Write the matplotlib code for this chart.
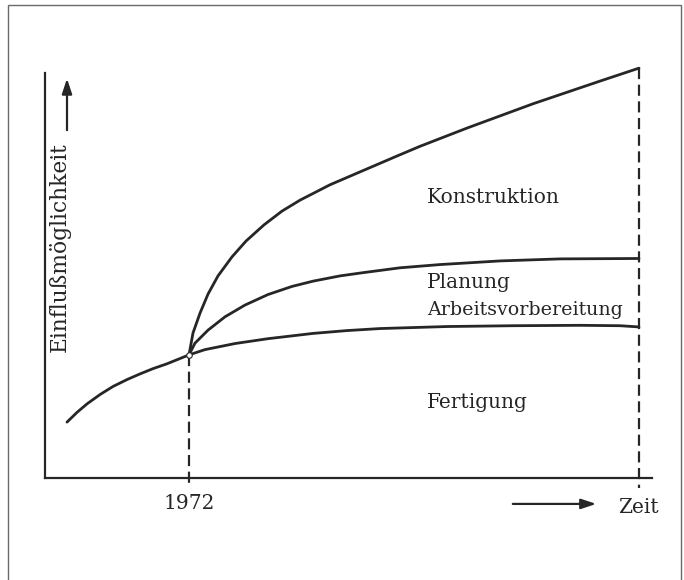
import matplotlib
matplotlib.use("Agg")
import matplotlib.pyplot as plt
from matplotlib.patches import Rectangle

# ---- data ----
# Time axis in years, influence in percent of axis height
fertigung_years = [1967.12, 1967.52, 1967.92, 1968.44, 1968.96, 1969.52, 1970.04, 1970.56, 1971.12,
                   1971.64, 1972.00, 1972.64, 1973.84, 1975.16, 1976.96, 1978.32, 1979.64, 1982.32,
                   1984.96, 1987.64, 1989.24, 1990.00]
fertigung_vals = [13.8, 16.2, 18.3, 20.6, 22.6, 24.3, 25.7, 27.0, 28.2,
                  29.5, 30.4, 31.7, 33.2, 34.4, 35.7, 36.4, 36.9, 37.4,
                  37.6, 37.7, 37.6, 37.3]

planung_years = [1972.00, 1972.24, 1972.76, 1973.44, 1974.24, 1975.16, 1976.12, 1976.96, 1978.04,
                 1978.96, 1980.44, 1982.04, 1984.44, 1986.84, 1990.00]
planung_vals = [30.4, 33.3, 36.5, 39.8, 42.7, 45.3, 47.3, 48.6, 49.9,
                50.7, 51.9, 52.7, 53.6, 54.1, 54.2]

konstruktion_years = [1972.00, 1972.16, 1972.44, 1972.76, 1973.16, 1973.72, 1974.28, 1975.00, 1975.72,
                      1976.44, 1977.64, 1978.96, 1980.32, 1981.24, 1983.12, 1985.76, 1988.44, 1990.00]
konstruktion_vals = [30.4, 35.8, 40.7, 45.4, 49.9, 54.6, 58.5, 62.5, 65.9,
                     68.6, 72.4, 75.9, 79.5, 81.9, 86.4, 92.4, 98.0, 101.2]

start_year = 1972
end_year = 1990
area_labels = ["Konstruktion", "Planung", "Arbeitsvorbereitung", "Fertigung"]
x_label = "Zeit"
y_label = "Einflußmöglichkeit"

# ---- figure ----
W, H = 684, 580
fig = plt.figure(figsize=(W / 100, H / 100), dpi=100)
fig.patch.set_facecolor("white")

ink = "#262626"
font = "DejaVu Serif"
fs = 14.5

# outer frame (scan border)
fig.patches.append(Rectangle((8 / W, -0.05), (681 - 8) / W, 1 - 5 / H + 0.05,
                             transform=fig.transFigure, fill=False,
                             edgecolor="#6a6a6a", linewidth=1.0))

ax_left, ax_right, ax_top, ax_bottom = 45, 652, 73, 478
ax = fig.add_axes([ax_left / W, (H - ax_bottom) / H, (ax_right - ax_left) / W, (ax_bottom - ax_top) / H])
ax.set_xlim(1966.24, 1990.52)
ax.set_ylim(0, 100)
ax.set_facecolor("none")
for s in ["top", "right"]:
    ax.spines[s].set_visible(False)
for s in ["left", "bottom"]:
    ax.spines[s].set_color(ink)
    ax.spines[s].set_linewidth(1.6)
ax.set_xticks([])
ax.set_yticks([])

lw = 2.0
for xs, ys in [(fertigung_years, fertigung_vals), (planung_years, planung_vals),
               (konstruktion_years, konstruktion_vals)]:
    ax.plot(xs, ys, color=ink, lw=lw, solid_joinstyle="round", solid_capstyle="round", clip_on=False)

# junction marker
ax.plot([start_year], [fertigung_vals[10]], marker="o", ms=4, mfc="white", mec=ink, mew=0.8,
        clip_on=False, zorder=5)

# dashed verticals
dash = (0, (5, 2.5))
ax.plot([start_year, start_year], [fertigung_vals[10], -2.5], color=ink, lw=1.6, linestyle=dash,
        clip_on=False)
ax.plot([end_year, end_year], [konstruktion_vals[-1], -2.5], color=ink, lw=1.6, linestyle=dash,
        clip_on=False)

# area labels
tx = 1981.52
ax.text(tx, 67.9, area_labels[0], fontsize=fs, family=font, color=ink, va="baseline", ha="left")
ax.text(tx, 46.9, area_labels[1], fontsize=fs, family=font, color=ink, va="baseline", ha="left")
ax.text(tx, 40.2, area_labels[2], fontsize=13.7, family=font, color=ink, va="baseline", ha="left")
ax.text(tx, 17.3, area_labels[3], fontsize=fs, family=font, color=ink, va="baseline", ha="left")

# axis annotations
ax.text(start_year, -6.3, str(start_year), fontsize=fs, family=font, color=ink, ha="center", va="center")
ax.text(1989.96, -7.4, x_label, fontsize=fs, family=font, color=ink, ha="center", va="center")
ax.annotate("", xy=(1988.4, -6.4), xytext=(1984.84, -6.4), annotation_clip=False,
            arrowprops=dict(arrowstyle="-|>,head_length=0.9,head_width=0.3", color=ink, lw=1.6))
ax.text(1966.84, 57.0, y_label, fontsize=15.7, family=font, color=ink, rotation=90,
        ha="center", va="center")
ax.annotate("", xy=(1967.12, 99.3), xytext=(1967.12, 85.2), annotation_clip=False,
            arrowprops=dict(arrowstyle="-|>,head_length=0.9,head_width=0.3", color=ink, lw=1.6))

fig.savefig("out.png", dpi=100, facecolor="white")
